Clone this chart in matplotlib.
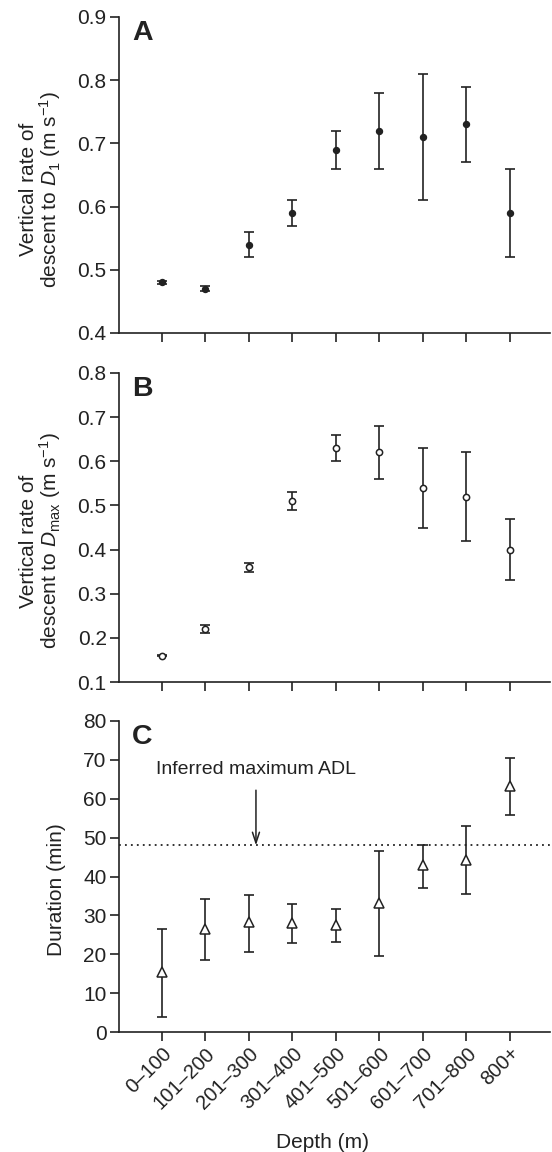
import matplotlib
matplotlib.use("Agg")
import matplotlib.pyplot as plt
import numpy as np

plt.rcParams['font.family'] = ['Liberation Sans', 'DejaVu Sans']
plt.rcParams['mathtext.fontset'] = 'custom'
plt.rcParams['mathtext.rm'] = 'Liberation Sans'
plt.rcParams['mathtext.it'] = 'Liberation Sans:italic'
plt.rcParams['mathtext.bf'] = 'Liberation Sans:bold'

# ---- data ----
depth_labels = ["0–100", "101–200", "201–300", "301–400", "401–500",
                "501–600", "601–700", "701–800", "800+"]

rate_d1 = [0.48, 0.47, 0.54, 0.59, 0.69, 0.72, 0.71, 0.73, 0.59]
rate_d1_low = [0.478, 0.466, 0.52, 0.57, 0.66, 0.66, 0.61, 0.67, 0.52]
rate_d1_high = [0.482, 0.474, 0.56, 0.61, 0.72, 0.78, 0.81, 0.79, 0.66]

rate_dmax = [0.16, 0.22, 0.36, 0.51, 0.63, 0.62, 0.54, 0.52, 0.40]
rate_dmax_low = [0.158, 0.21, 0.35, 0.49, 0.60, 0.56, 0.45, 0.42, 0.33]
rate_dmax_high = [0.162, 0.23, 0.37, 0.53, 0.66, 0.68, 0.63, 0.62, 0.47]

duration = [15.4, 26.4, 28.2, 28.0, 27.5, 33.3, 42.9, 44.3, 63.3]
duration_low = [3.9, 18.4, 20.7, 22.8, 23.2, 19.6, 37.1, 35.4, 55.7]
duration_high = [26.5, 34.2, 35.2, 33.0, 31.6, 46.5, 48.2, 52.9, 70.4]

adl_max = 48.0

# ---- figure ----
W, H = 552, 1152
fig = plt.figure(figsize=(W / 100, H / 100), dpi=100)

def ax_rect(top_px, bottom_px, left_px=118.5, right_px=550):
    return [left_px / W, 1 - bottom_px / H, (right_px - left_px) / W,
            (bottom_px - top_px) / H]

axA = fig.add_axes(ax_rect(17, 333))
axB = fig.add_axes(ax_rect(373, 682))
axC = fig.add_axes(ax_rect(721, 1032))

x = np.arange(1, len(depth_labels) + 1)
col = '#222222'
lw = 1.2
cap = 3.8

def style(ax):
    for s in ['top', 'right']:
        ax.spines[s].set_visible(False)
    for s in ['left', 'bottom']:
        ax.spines[s].set_linewidth(1.2)
        ax.spines[s].set_color(col)
    ax.tick_params(axis='both', direction='out', length=6.5, width=1.2,
                   color=col, labelsize=15, labelcolor='#222222', pad=2)
    ax.set_xlim(0, 9.92)
    ax.set_xticks(x)

def errbar(ax, y, lo, hi, **kw):
    y = np.array(y); lo = np.array(lo); hi = np.array(hi)
    ax.errorbar(x, y, yerr=[y - lo, hi - y], fmt='none', ecolor=col,
                elinewidth=lw, capsize=cap, capthick=lw, zorder=2)
    ax.plot(x, y, linestyle='none', zorder=3, **kw)

# Panel A
errbar(axA, rate_d1, rate_d1_low, rate_d1_high, marker='o', markersize=4.3,
       markerfacecolor=col, markeredgecolor=col)
style(axA)
axA.set_ylim(0.4, 0.9)
axA.set_yticks([0.4, 0.5, 0.6, 0.7, 0.8, 0.9])
axA.set_yticklabels(["0.4", "0.5", "0.6", "0.7", "0.8", "0.9"])
axA.set_xticklabels([])
axA.set_ylabel("Vertical rate of\ndescent to $\\mathit{D}_1$ (m s$^{-1}$)",
               fontsize=15, color='#222222', linespacing=0.95)
axA.yaxis.set_label_coords(-0.128, 0.456)
axA.text(0.032, 0.99, "A", transform=axA.transAxes, fontsize=20.5,
         fontweight='bold', va='top', ha='left', color='#222222')

# Panel B
errbar(axB, rate_dmax, rate_dmax_low, rate_dmax_high, marker='o',
       markersize=4.5, markerfacecolor='white', markeredgecolor=col,
       markeredgewidth=1.1)
style(axB)
axB.set_ylim(0.1, 0.8)
axB.set_yticks([0.1, 0.2, 0.3, 0.4, 0.5, 0.6, 0.7, 0.8])
axB.set_yticklabels(["0.1", "0.2", "0.3", "0.4", "0.5", "0.6", "0.7", "0.8"])
axB.set_xticklabels([])
axB.set_ylabel("Vertical rate of\ndescent to $\\mathit{D}_{\\mathrm{max}}$ (m s$^{-1}$)",
               fontsize=15, color='#222222', linespacing=0.95)
axB.yaxis.set_label_coords(-0.128, 0.456)
axB.text(0.032, 0.99, "B", transform=axB.transAxes, fontsize=20.5,
         fontweight='bold', va='top', ha='left', color='#222222')

# Panel C
axC.axhline(adl_max, color=col, linestyle=(0, (1, 2.3)), linewidth=1.3,
            zorder=1)
errbar(axC, duration, duration_low, duration_high, marker='^',
       markersize=7, markerfacecolor='white', markeredgecolor=col,
       markeredgewidth=1.1)
style(axC)
axC.set_ylim(0, 80)
axC.set_yticks(np.arange(0, 81, 10))
axC.set_xticklabels(depth_labels, rotation=45, ha='right',
                    rotation_mode='anchor', fontsize=14.5)
axC.set_ylabel("Duration (min)", fontsize=15, color='#222222')
axC.yaxis.set_label_coords(-0.121, 0.457)
axC.text(0.032, 0.99, "C", transform=axC.transAxes, fontsize=20.5,
         fontweight='bold', va='top', ha='left', color='#222222')
axC.annotate("Inferred maximum ADL", xy=(3.16, adl_max),
             xytext=(3.16, 67.6), ha='center', va='center', fontsize=14,
             color='#222222',
             arrowprops=dict(arrowstyle='->,head_length=0.55,head_width=0.18',
                             color=col, lw=1.1, shrinkA=7, shrinkB=0))

fig.text(322 / W, 1 - 1142 / H, "Depth (m)", ha='center', va='center',
         fontsize=15, color='#222222')

fig.savefig("out.png", dpi=100)
